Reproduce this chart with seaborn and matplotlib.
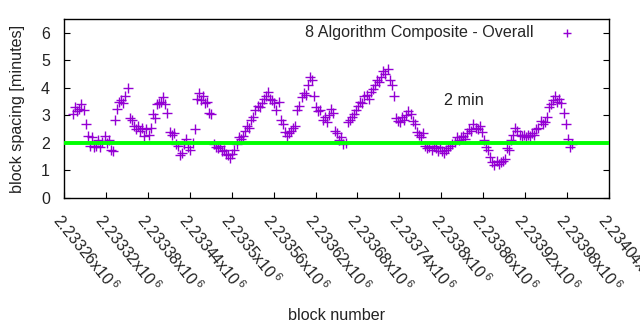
import numpy as np
import pandas as pd
import matplotlib
matplotlib.use("Agg")
import matplotlib.pyplot as plt
import seaborn as sns

# ---- data ----
block_start = 2233273
block_step = 3
spacing_minutes = [
    3.05, 3.3, 3.15, 3.25, 3.4, 3.2, 2.7, 2.25, 1.9, 2.2,
    1.85, 1.9, 2.1, 1.85, 2.05, 2.25, 2.0, 2.1, 1.75, 1.7,
    2.85, 3.25, 3.5, 3.55, 3.45, 3.7, 4.0, 2.9, 2.85, 2.6,
    2.5, 2.6, 2.45, 2.55, 2.25, 2.5, 2.3, 2.55, 3.05, 2.9,
    3.4, 3.45, 3.5, 3.65, 3.4, 3.1, 2.4, 2.3, 2.35, 1.95,
    1.9, 1.55, 1.65, 1.95, 2.15, 1.85, 1.75, 2.0, 2.5, 3.6,
    3.8, 3.55, 3.7, 3.45, 3.5, 3.1, 3.05, 1.95, 1.85, 1.8,
    1.9, 1.7, 1.75, 1.6, 1.55, 1.45, 1.6, 1.75, 1.95, 2.2,
    2.15, 2.25, 2.45, 2.6, 2.55, 2.85, 2.95, 3.2, 3.35, 3.3,
    3.45, 3.6, 3.7, 3.85, 3.6, 3.55, 3.45, 3.2, 3.5, 2.85,
    2.7, 2.4, 2.25, 2.35, 2.45, 2.55, 2.6, 3.2, 3.35, 3.65,
    3.8, 3.75, 4.1, 4.4, 4.3, 3.7, 3.3, 3.15, 3.2, 2.85,
    2.95, 2.75, 3.0, 3.25, 3.1, 2.45, 2.35, 2.1, 2.2, 1.95,
    2.0, 2.75, 2.85, 2.95, 3.05, 3.2, 3.35, 3.5, 3.45, 3.7,
    3.75, 3.6, 3.85, 3.95, 4.1, 4.3, 4.2, 4.4, 4.6, 4.5,
    4.7, 4.3, 4.1, 3.7, 2.9, 2.8, 2.75, 2.95, 2.85, 3.0,
    3.15, 3.05, 2.8, 2.7, 2.4, 2.3, 2.2, 2.35, 1.9, 1.8,
    1.85, 1.75, 1.9, 1.8, 1.7, 1.85, 1.7, 1.65, 1.75, 1.8,
    1.9, 1.95, 2.05, 2.2, 2.1, 2.2, 2.25, 2.15, 2.35, 2.5,
    2.45, 2.7, 2.55, 2.5, 2.6, 2.4, 2.1, 1.85, 1.75, 1.5,
    1.3, 1.2, 1.35, 1.25, 1.3, 1.35, 1.4, 1.8, 1.75, 2.1,
    2.3, 2.55, 2.45, 2.3, 2.25, 2.3, 2.2, 2.3, 2.25, 2.35,
    2.3, 2.5, 2.55, 2.8, 2.7, 2.75, 2.95, 3.3, 3.4, 3.55,
    3.7, 3.5, 3.6, 3.45, 3.1, 2.7, 2.15, 1.85, 1.95,
]
target_minutes = 2
x_ticks = [2233260 + 60 * k for k in range(14)]
x_tick_labels = [
    "2.23326x10$^{\\,6}$", "2.23332x10$^{\\,6}$", "2.23338x10$^{\\,6}$", "2.23344x10$^{\\,6}$",
    "2.2335x10$^{\\,6}$", "2.23356x10$^{\\,6}$", "2.23362x10$^{\\,6}$", "2.23368x10$^{\\,6}$",
    "2.23374x10$^{\\,6}$", "2.2338x10$^{\\,6}$", "2.23386x10$^{\\,6}$", "2.23392x10$^{\\,6}$",
    "2.23398x10$^{\\,6}$", "2.23404x10$^{\\,6}$",
]
y_ticks = [0, 1, 2, 3, 4, 5, 6]
series_label = "8 Algorithm Composite - Overall"

blocks = [block_start + block_step * i for i in range(len(spacing_minutes))]
df = pd.DataFrame({"block": blocks, "spacing": spacing_minutes})

sns.set_style("white")
plt.rcParams["font.family"] = ["Liberation Sans", "DejaVu Sans"]
plt.rcParams["mathtext.fontset"] = "custom"
plt.rcParams["mathtext.rm"] = "Liberation Sans"
plt.rcParams["mathtext.it"] = "Liberation Sans"

fig = plt.figure(figsize=(6.4, 3.3), dpi=100)
ax = fig.add_axes([64 / 640, 1 - 198 / 330, (609 - 64) / 640, (198 - 19) / 330])

sns.scatterplot(data=df, x="block", y="spacing", marker="+", color="#9400d3",
                s=42, linewidth=1.0, ax=ax, label=series_label, zorder=2)
ax.axhline(target_minutes, color="#00ff00", lw=2.8, zorder=3)

ax.set_xlim(x_ticks[0], x_ticks[-1])
ax.set_ylim(0, 6.5)
ax.set_xticks(x_ticks)
ax.set_xticklabels(x_tick_labels, rotation=-51, ha="left", va="top",
                   rotation_mode="anchor", fontsize=11.5, color="#222222")
ax.set_yticks(y_ticks)
ax.set_yticklabels([str(v) for v in y_ticks], fontsize=11.5, color="#222222")
ax.tick_params(axis="both", direction="in", length=4, width=0.8, color="black",
               right=True, bottom=True, left=True)
ax.tick_params(axis="x", pad=9)
ax.tick_params(axis="y", pad=10)
for sp in ax.spines.values():
    sp.set_color("black")
    sp.set_linewidth(1.0)

ax.set_xlabel("block number", fontsize=11.6, color="#222222")
ax.xaxis.set_label_coords(0.5, -0.615)
ax.set_ylabel("block spacing [minutes]", fontsize=11.6, color="#222222")
ax.yaxis.set_label_coords(-0.072, 0.5)

ax.text(2233833, 3.53, "2 min", fontsize=11.6, ha="center", va="center", color="#222222")

leg = ax.legend(loc="upper right", frameon=False, markerfirst=False, fontsize=11.6,
                handlelength=1.0, handletextpad=1.6, borderaxespad=0.0,
                bbox_to_anchor=(0.95, 1.0))
for h in leg.legend_handles:
    h.set_sizes([36])

fig.savefig("out.png", dpi=100)
